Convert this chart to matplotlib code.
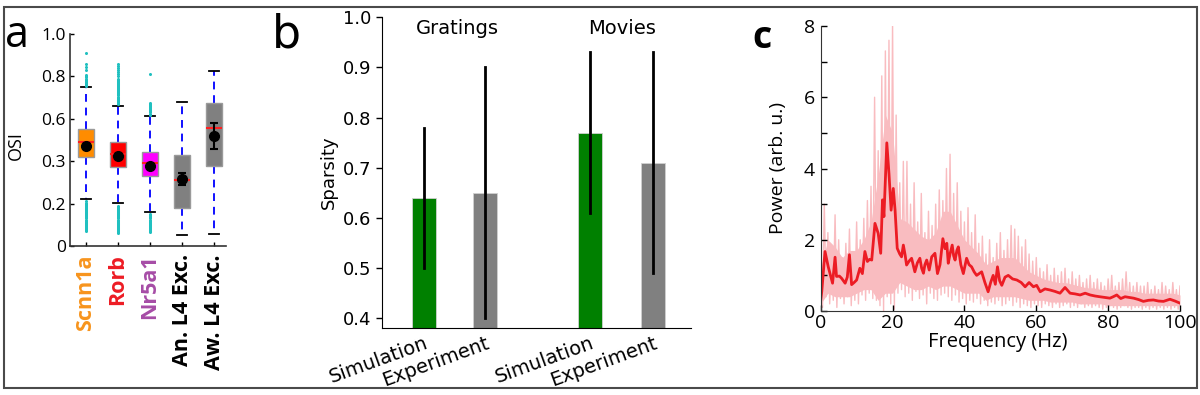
import matplotlib
matplotlib.use('Agg')
import matplotlib.pyplot as plt
from matplotlib.patches import Rectangle

# --- datos panel a (OSI por tipo celular) ---
cell_types = ['Scnn1a', 'Rorb', 'Nr5a1', 'An. L4 Exc.', 'Aw. L4 Exc.']
label_colors = ['#f7941d', '#ed1c24', '#a64ca6', 'black', 'black']
box_colors = ['#ff8c00', '#ff0000', '#ff00ff', '#808080', '#808080']
osi_q1 = [0.418, 0.374, 0.332, 0.178, 0.379]
osi_med = [0.489, 0.432, 0.393, 0.313, 0.558]
osi_q3 = [0.552, 0.489, 0.443, 0.431, 0.675]
osi_whislo = [0.220, 0.201, 0.159, 0.052, 0.057]
osi_whishi = [0.749, 0.662, 0.613, 0.679, 0.827]
osi_mean = [0.472, 0.425, 0.379, 0.315, 0.517]
osi_mean_lo = [0.472, 0.425, 0.379, 0.290, 0.456]
osi_mean_hi = [0.472, 0.425, 0.379, 0.344, 0.579]
osi_ticks = [0, 0.2, 0.4, 0.6, 0.8, 1.0]
osi_ticklabels = ['0', '0.2', '0.3', '0.6', '0.8', '1.0']

fliers_scnn1a = [0.755, 0.76, 0.765, 0.77, 0.775, 0.78, 0.785, 0.79, 0.795, 0.80,
                 0.805, 0.83, 0.845, 0.86, 0.91,
                 0.07, 0.075, 0.08, 0.085, 0.09, 0.095, 0.10, 0.105, 0.11, 0.115,
                 0.12, 0.125, 0.13, 0.135, 0.14, 0.145, 0.15, 0.155, 0.16, 0.165,
                 0.17, 0.175, 0.18, 0.185, 0.19, 0.195, 0.20, 0.205, 0.21]
fliers_rorb = [0.67, 0.675, 0.68, 0.685, 0.69, 0.695, 0.70, 0.705, 0.71, 0.715,
               0.72, 0.725, 0.73, 0.735, 0.74, 0.745, 0.75, 0.755, 0.76, 0.765,
               0.77, 0.775, 0.78, 0.785, 0.79, 0.80, 0.81, 0.82, 0.83, 0.84, 0.85, 0.857,
               0.06, 0.065, 0.07, 0.075, 0.08, 0.085, 0.09, 0.095, 0.10, 0.105,
               0.11, 0.115, 0.12, 0.125, 0.13, 0.135, 0.14, 0.145, 0.15, 0.155,
               0.16, 0.165, 0.17, 0.175, 0.18, 0.185, 0.19]
fliers_nr5a1 = [0.62, 0.625, 0.63, 0.635, 0.64, 0.645, 0.65, 0.655, 0.66, 0.665,
                0.67, 0.676, 0.81,
                0.067, 0.07, 0.075, 0.08, 0.085, 0.09, 0.095, 0.10, 0.105, 0.11,
                0.115, 0.12, 0.125, 0.13, 0.135, 0.14, 0.145, 0.15]
osi_fliers = [fliers_scnn1a, fliers_rorb, fliers_nr5a1, [], []]

# --- datos panel b (sparsity) ---
conditions = ['Gratings', 'Movies']
bar_labels = ['Simulation', 'Experiment', 'Simulation', 'Experiment']
sparsity = [0.64, 0.65, 0.77, 0.71]
sparsity_lo = [0.50, 0.40, 0.61, 0.49]
sparsity_hi = [0.78, 0.90, 0.93, 0.93]
bar_colors = ['#008000', '#808080', '#008000', '#808080']

# --- datos panel c (espectro de potencia) ---
red_freq = [0, 0.3, 1.2, 2.1, 3.3, 4.0, 4.4, 5.2, 5.8, 6.8,
            7.4, 8.0, 8.6, 9.3, 10.0, 10.9, 11.6, 12.3, 13.0, 13.6,
            14.2, 15.1, 16.0, 16.7, 17.2, 17.6, 18.4, 19.0, 19.6, 20.2,
            20.7, 21.3, 22.0, 22.5, 23.0, 23.5, 23.9, 24.6, 25.3, 26.2,
            26.9, 27.6, 28.1, 28.6, 29.0, 29.5, 30.2, 30.9, 31.8, 32.5,
            33.2, 34.0, 34.6, 35.1, 35.5, 36.0, 36.6, 37.0, 37.4, 37.9,
            38.3, 39.0, 39.7, 40.6, 41.3, 42.0, 42.7, 43.4, 44.1, 44.8,
            45.7, 46.6, 47.3, 48.0, 48.6, 49.2, 49.8, 50.4, 51.3, 52.2,
            53.4, 54.6, 55.8, 56.9, 58.0, 59.2, 60.1, 61.1, 62.4, 63.8,
            65.2, 66.6, 68.0, 69.4, 70.8, 72.2, 73.6, 75.0, 76.4, 77.7,
            79.1, 80.5, 81.4, 82.4, 83.5, 84.7, 85.9, 87.1, 88.5, 89.8,
            91.2, 92.6, 94.0, 95.4, 96.3, 97.2, 98.6, 100]
red_power = [0.30, 0.55, 1.67, 1.24, 0.78, 1.51, 0.97, 0.98, 0.92, 0.78,
             0.95, 1.58, 0.74, 0.80, 0.87, 1.20, 1.05, 1.67, 1.39, 1.45,
             1.43, 2.46, 2.18, 1.62, 3.12, 2.65, 4.72, 3.86, 2.83, 3.44,
             2.83, 1.76, 1.60, 1.52, 1.85, 1.57, 1.29, 1.40, 1.48, 1.10,
             1.35, 1.48, 1.20, 1.06, 1.30, 1.43, 1.15, 1.52, 1.62, 1.05,
             1.30, 2.03, 1.75, 1.90, 1.34, 1.60, 1.85, 1.55, 1.43, 1.70,
             1.80, 1.30, 1.05, 1.48, 1.30, 1.24, 1.10, 1.00, 1.05, 1.10,
             0.80, 0.54, 0.80, 1.00, 0.75, 1.24, 0.85, 0.72, 0.95, 1.00,
             0.90, 0.87, 0.80, 0.68, 0.80, 0.68, 0.72, 0.54, 0.62, 0.59,
             0.55, 0.50, 0.66, 0.50, 0.48, 0.45, 0.50, 0.45, 0.42, 0.40,
             0.38, 0.36, 0.40, 0.45, 0.35, 0.40, 0.38, 0.36, 0.32, 0.27,
             0.30, 0.31, 0.28, 0.27, 0.30, 0.33, 0.28, 0.22]

# trazas individuales (picos altos y bajos cada 1 Hz)
pink_hi = [1.0, 3.0, 2.2, 1.6, 2.7, 2.0, 1.5, 1.9, 2.3, 1.6,
           2.5, 2.0, 2.6, 3.1, 3.5, 6.0, 4.5, 6.6, 7.3, 7.6,
           8.1, 5.5, 3.6, 4.2, 4.2, 3.0, 3.6, 2.5, 3.3, 2.2,
           2.8, 2.4, 3.0, 3.4, 3.1, 4.0, 4.4, 3.3, 3.6, 2.8,
           2.5, 2.9, 2.2, 2.7, 1.9, 2.1, 1.6, 2.0, 1.5, 1.9,
           2.2, 1.7, 2.0, 2.4, 2.3, 2.1, 1.8, 2.0, 1.6, 1.4,
           1.5, 1.2, 1.1, 1.3, 1.0, 1.2, 1.0, 1.1, 1.2, 0.9,
           1.1, 0.9, 1.0, 0.8, 0.9, 1.0, 0.8, 0.9, 0.8, 0.7,
           0.9, 1.0, 0.7, 0.8, 0.9, 1.1, 0.8, 0.7, 0.8, 0.7,
           0.7, 0.8, 0.6, 0.7, 0.6, 0.8, 0.7, 0.6, 0.8, 0.6,
           0.7]
pink_lo = [0.10, 0.40, 0.20, 0.30, 0.10, 0.35, 0.20, 0.40, 0.15, 0.30,
           0.20, 0.45, 0.30, 0.50, 0.35, 0.30, 0.15, 0.00, 0.40, 0.20,
           0.05, 0.50, 0.60, 0.40, 0.50, 0.30, 0.55, 0.35, 0.45, 0.20,
           0.50, 0.35, 0.30, 0.45, 0.50, 0.40, 0.30, 0.45, 0.25, 0.35,
           0.20, 0.30, 0.25, 0.35, 0.20, 0.30, 0.15, 0.25, 0.20, 0.30,
           0.15, 0.20, 0.30, 0.15, 0.25, 0.10, 0.20, 0.15, 0.10, 0.20,
           0.15, 0.10, 0.20, 0.15, 0.10, 0.20, 0.10, 0.15, 0.20, 0.10,
           0.15, 0.10, 0.20, 0.10, 0.15, 0.10, 0.15, 0.10, 0.05, 0.10,
           0.15, 0.10, 0.05, 0.10, 0.15, 0.10, 0.05, 0.10, 0.10, 0.05,
           0.10, 0.05, 0.10, 0.05, 0.10, 0.05, 0.10, 0.05, 0.10, 0.05,
           0.10]
# zona densa de las trazas (cada 2 Hz)
band_freq = [0, 2, 4, 6, 8, 10, 12, 14, 16, 18,
             20, 22, 24, 26, 28, 30, 32, 34, 36, 38,
             40, 42, 44, 46, 48, 50, 52, 54, 56, 58,
             60, 62, 64, 66, 68, 70, 72, 74, 76, 78,
             80, 82, 84, 86, 88, 90, 92, 94, 96, 98, 100]
band_top = [1.2, 2.0, 1.8, 1.5, 1.7, 1.7, 2.0, 2.5, 3.8, 5.5,
            5.0, 2.6, 2.5, 2.3, 2.1, 2.0, 2.2, 2.8, 2.8, 2.4,
            2.0, 1.8, 1.6, 1.3, 1.4, 1.5, 1.5, 1.5, 1.3, 1.1,
            1.0, 0.9, 0.85, 0.8, 0.8, 0.75, 0.7, 0.65, 0.65, 0.6,
            0.6, 0.6, 0.6, 0.55, 0.55, 0.5, 0.5, 0.5, 0.5, 0.5, 0.45]
band_bottom = [0.2, 0.5, 0.4, 0.4, 0.4, 0.5, 0.6, 0.6, 0.3, 0.5,
               0.5, 0.8, 0.7, 0.6, 0.6, 0.7, 0.6, 0.7, 0.7, 0.6,
               0.5, 0.5, 0.5, 0.3, 0.4, 0.4, 0.4, 0.4, 0.35, 0.3,
               0.3, 0.3, 0.25, 0.25, 0.25, 0.25, 0.2, 0.2, 0.2, 0.2,
               0.15, 0.15, 0.15, 0.15, 0.15, 0.15, 0.15, 0.15, 0.15, 0.15, 0.15]

W, H = 1200, 395
fig = plt.figure(figsize=(W / 100, H / 100), dpi=100)

def fbox(left, top, right, bottom):
    # pixeles -> fracciones de figura
    return [left / W, (H - bottom) / H, (right - left) / W, (bottom - top) / H]

sans = 'Open Sans'
pink = '#f9bcc0'

# ---------------- panel a ----------------
ax_a = fig.add_axes(fbox(70, 34, 226, 246))
pos_a = [1, 2, 3, 4, 5]
stats = []
for i in range(len(cell_types)):
    stats.append(dict(med=osi_med[i], q1=osi_q1[i], q3=osi_q3[i],
                      whislo=osi_whislo[i], whishi=osi_whishi[i],
                      fliers=osi_fliers[i]))
bp = ax_a.bxp(stats, positions=pos_a, widths=0.52, patch_artist=True,
              boxprops=dict(edgecolor='#9a9a9a', linewidth=1.0),
              medianprops=dict(color='#ff2020', linewidth=1.5),
              whiskerprops=dict(color='#1010ff', linestyle=(0, (4, 3)), linewidth=1.4),
              capprops=dict(color='black', linewidth=1.3),
              flierprops=dict(marker='o', markersize=2.2, markerfacecolor='#20c0c0',
                              markeredgecolor='none', linestyle='none'),
              capwidths=0.3)
for patch, c in zip(bp['boxes'], box_colors):
    patch.set_facecolor(c)
for w in bp['whiskers']:
    w.set_zorder(1)
for i in range(len(cell_types)):
    ax_a.errorbar(pos_a[i], osi_mean[i],
                  yerr=[[osi_mean[i] - osi_mean_lo[i]], [osi_mean_hi[i] - osi_mean[i]]],
                  fmt='o', color='black', markersize=7, capsize=3, elinewidth=1.5,
                  capthick=1.5, zorder=5)
ax_a.set_xlim(0.5, 5.375)
ax_a.set_ylim(0, 1.0)
ax_a.set_yticks(osi_ticks)
ax_a.set_yticklabels(osi_ticklabels, fontsize=12.5, family=sans)
ax_a.set_xticks(pos_a)
ax_a.set_xticklabels(cell_types, rotation=90, fontsize=15.5, fontweight='bold', family=sans)
for lbl, c in zip(ax_a.get_xticklabels(), label_colors):
    lbl.set_color(c)
ax_a.tick_params(direction='in', length=3, width=1, pad=6)
ax_a.tick_params(axis='y', pad=3)
for s in ['top', 'right']:
    ax_a.spines[s].set_visible(False)
for s in ['left', 'bottom']:
    ax_a.spines[s].set_linewidth(1.2)
    ax_a.spines[s].set_color('#333333')
ax_a.set_ylabel('OSI', fontsize=13, family=sans)
ax_a.yaxis.set_label_coords(-0.29, 0.476)

# ---------------- panel b ----------------
ax_b = fig.add_axes(fbox(382, 17.3, 691, 328.3))
pos_b = [0, 1, 2.72, 3.76]
ax_b.bar(pos_b, sparsity, width=0.39, bottom=0, color=bar_colors,
         edgecolor='#d0d0d0', linewidth=0.6, zorder=2)
for i in range(len(pos_b)):
    ax_b.plot([pos_b[i], pos_b[i]], [sparsity_lo[i], sparsity_hi[i]],
              color='black', linewidth=2, zorder=3)
ax_b.set_xlim(-0.69, 4.38)
ax_b.set_ylim(0.38, 1.0)
ax_b.set_yticks([0.4, 0.5, 0.6, 0.7, 0.8, 0.9, 1.0])
ax_b.tick_params(axis='y', labelsize=13, length=4, width=1)
ax_b.set_xticks(pos_b)
ax_b.set_xticklabels(bar_labels, rotation=20, ha='right', rotation_mode='anchor', fontsize=14)
ax_b.tick_params(axis='x', length=0, pad=4)
for s in ['top', 'right']:
    ax_b.spines[s].set_visible(False)
ax_b.set_ylabel('Sparsity', fontsize=13)
ax_b.yaxis.set_label_coords(-0.142, 0.503)
ax_b.text(0.54, 0.977, conditions[0], ha='center', va='center', fontsize=14)
ax_b.text(3.25, 0.977, conditions[1], ha='center', va='center', fontsize=14)

# ---------------- panel c ----------------
ax_c = fig.add_axes(fbox(820.7, 26, 1180, 311))
pink_x = []
pink_y = []
for k in range(len(pink_hi)):
    pink_x += [k, k + 0.5]
    pink_y += [pink_hi[k], pink_lo[k]]
ax_c.fill_between(band_freq, band_bottom, band_top, color=pink, linewidth=0, zorder=1)
ax_c.plot(pink_x[:-1], pink_y[:-1], color=pink, linewidth=1.0, zorder=1)
ax_c.plot(red_freq, red_power, color='#ec1c24', linewidth=2.0, zorder=2)
ax_c.set_xlim(0, 100)
ax_c.set_ylim(0, 8)
ax_c.set_xticks([0, 20, 40, 60, 80, 100])
ax_c.set_yticks([0, 2, 4, 6, 8])
ax_c.set_yticks([1, 3, 5, 7], minor=True)
ax_c.tick_params(direction='in', length=4, width=1, labelsize=14, pad=2)
ax_c.tick_params(axis='y', pad=4)
ax_c.tick_params(which='minor', direction='in', length=4, width=1)
for lbl in ax_c.get_xticklabels() + ax_c.get_yticklabels():
    lbl.set_family(sans)
for s in ['top', 'right']:
    ax_c.spines[s].set_visible(False)
for s in ['left', 'bottom']:
    ax_c.spines[s].set_color('#333333')
ax_c.set_xlabel('Frequency (Hz)', fontsize=14.5, family=sans, va='top')
ax_c.xaxis.set_label_coords(0.493, -0.075)
ax_c.set_ylabel('Power (arb. u.)', fontsize=14, family=sans)
ax_c.yaxis.set_label_coords(-0.094, 0.503)

# letras de panel
fig.text(5 / W, 1 - 47 / H, 'a', fontsize=31, family=sans, va='baseline')
fig.text(272 / W, 1 - 48 / H, 'b', fontsize=33, family='DejaVu Sans', va='baseline')
fig.text(752 / W, 1 - 48 / H, 'c', fontsize=27, family=sans, fontweight='bold', va='baseline')

# marco exterior
fig.add_artist(Rectangle((4 / W, 7 / H), 1193 / W, 381 / H, transform=fig.transFigure,
                         fill=False, edgecolor='#4a4a4a', linewidth=1.5))

fig.savefig('out.png', dpi=100)
